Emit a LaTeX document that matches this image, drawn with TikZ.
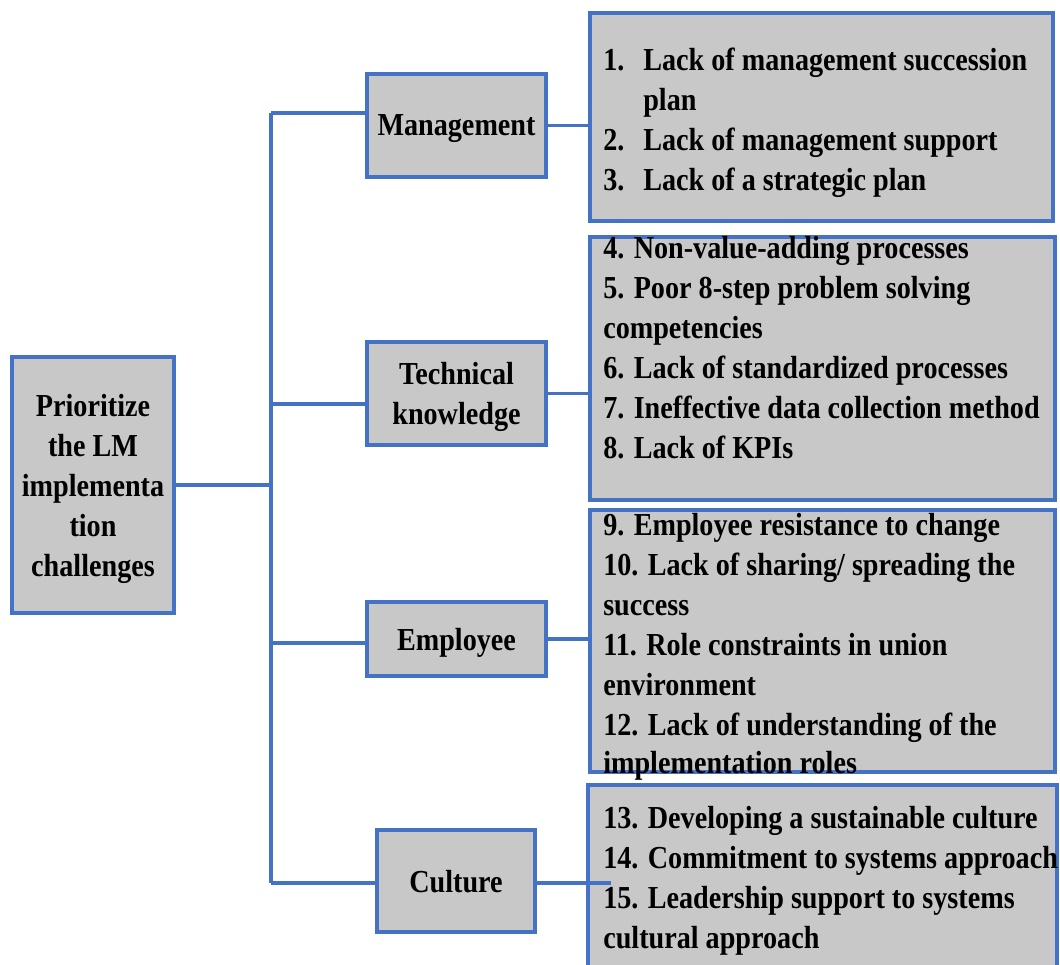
\documentclass[tikz,border=0pt]{standalone}
\usepackage{fontspec}
\setmainfont{Liberation Serif}[FakeStretch=0.88]
\definecolor{bblue}{HTML}{4472C4}
\definecolor{bgray}{HTML}{C8C8C8}
\begin{document}
\begin{tikzpicture}[x=0.75pt,y=-0.75pt,
  font=\fontsize{24}{30}\selectfont\bfseries,
  box/.style 2 args={draw=bblue, line width=2.8pt, fill=bgray,
    minimum width=#1*0.75pt, minimum height=#2*0.75pt, inner sep=0pt, align=center,
    text depth=0pt},
  link/.style={draw=bblue, line width=2.8pt},
  item/.style={anchor=base west, inner sep=0pt}]
\useasboundingbox (0,0) rectangle (1060,964);
\fill[white] (0,0) rectangle (1060,964);

% left and middle boxes
\node[box={162}{256}] (root) at (93,485) {Prioritize\\the LM\\implementa\\tion\\challenges};
\node[box={179}{103}] (mgmt) at (456.5,125.5) {Management};
\node[box={179}{103}] (tech) at (456.5,393.5) {Technical\\knowledge};
\node[box={179}{74}] (emp) at (456.5,639) {Employee};
\node[box={158}{102}] (cult) at (456,881) {Culture};

% list boxes
\node[box={463}{208}] (mlist) at (821.5,117) {};
\node[box={465}{263}] (tlist) at (822.5,368.5) {};
\node[box={465}{262}] (elist) at (822.5,641) {};
\node[box={469}{195}] (clist) at (822.5,882.5) {};

% connectors
\coordinate (tTop) at (271,113);
\coordinate (bTech) at (271,404);
\coordinate (bEmp) at (271,643);
\coordinate (tBot) at (271,883);
\coordinate (cEnd) at (611,883);
\draw[link] (tTop) -- (tBot);
\draw[link] (root.east) -- (root.east -| tTop);
\draw[link] (tTop) -- (tTop -| mgmt.west);
\draw[link] (bTech) -- (bTech -| tech.west);
\draw[link] (bEmp) -- (bEmp -| emp.west);
\draw[link] (tBot) -- (tBot -| cult.west);
\draw[link] (mgmt.east) -- (mgmt.east -| mlist.west);
\draw[link] (tech.east) -- (tech.east -| tlist.west);
\draw[link] (emp.east) -- (emp.east -| elist.west);
\draw[link] (cEnd -| cult.east) -- (cEnd);

% management items
\node[item] (m1n) at (603,70) {1.};
\node[item] (m1) at (643,70) {Lack of management succession};
\node[item] (m1b) at (643,110) {plan};
\node[item] (m2n) at (603,150) {2.};
\node[item] (m2) at (643,150) {Lack of management support};
\node[item] (m3n) at (603,190) {3.};
\node[item] (m3) at (643,190) {Lack of a strategic plan};

% technical items
\node[item] (t1) at (603,258) {4. Non-value-adding processes};
\node[item] (t2) at (603,298) {5. Poor 8-step problem solving};
\node[item] (t3) at (603,338) {competencies};
\node[item] (t4) at (603,378) {6. Lack of standardized processes};
\node[item] (t5) at (603,418) {7. Ineffective data collection method};
\node[item] (t6) at (603,458) {8. Lack of KPIs};

% employee items
\node[item] (e1) at (603,535) {9. Employee resistance to change};
\node[item] (e2) at (603,575) {10. Lack of sharing/ spreading the};
\node[item] (e3) at (603,615) {success};
\node[item] (e4) at (603,655) {11. Role constraints in union};
\node[item] (e5) at (603,695) {environment};
\node[item] (e6) at (603,735) {12. Lack of understanding of the};
\node[item] (e7) at (603,773) {implementation roles};

% culture items
\node[item] (c1) at (603,828) {13. Developing a sustainable culture};
\node[item] (c2) at (603,868) {14. Commitment to systems approach};
\node[item] (c3) at (603,908) {15. Leadership support to systems};
\node[item] (c4) at (603,948) {cultural approach};
\end{tikzpicture}
\end{document}
